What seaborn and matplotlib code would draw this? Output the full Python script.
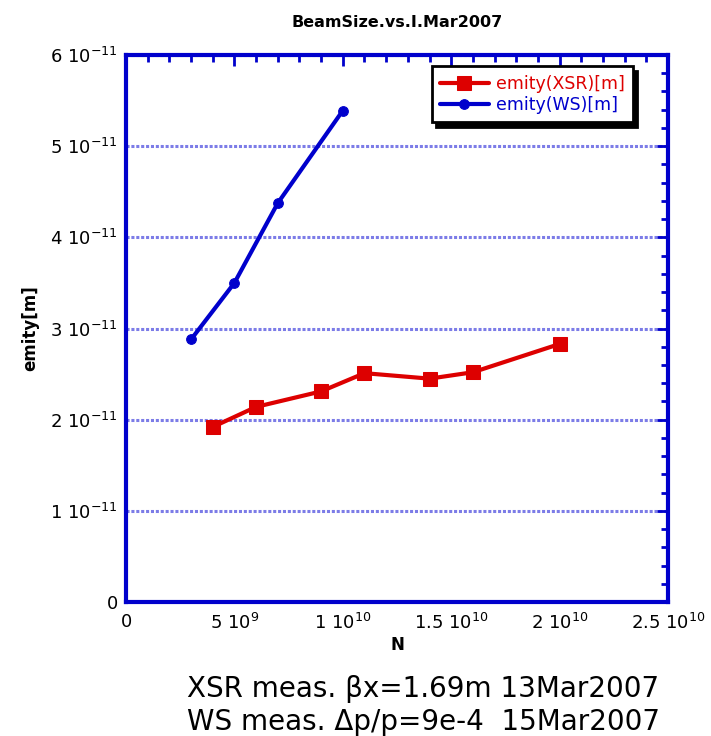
import numpy as np
import pandas as pd
import matplotlib
matplotlib.use("Agg")
import matplotlib.pyplot as plt
import seaborn as sns
from matplotlib.ticker import MultipleLocator, FuncFormatter

# data
xsr_N = [4e9, 6e9, 9e9, 11e9, 14e9, 16e9, 20e9]
xsr_emit = [1.92e-11, 2.14e-11, 2.31e-11, 2.51e-11, 2.45e-11, 2.52e-11, 2.83e-11]
ws_N = [3e9, 5e9, 7e9, 10e9]
ws_emit = [2.88e-11, 3.50e-11, 4.375e-11, 5.39e-11]
title = "BeamSize.vs.I.Mar2007"
xsr_label = "emity(XSR)[m]"
ws_label = "emity(WS)[m]"

sns.set_style("white")
plt.rcParams['font.family'] = ['DejaVu Sans']
plt.rcParams['mathtext.default'] = 'regular'
plt.rcParams['text.color'] = 'black'
plt.rcParams['axes.labelcolor'] = 'black'

fig = plt.figure(figsize=(7.11, 7.36), dpi=100)
ax = fig.add_axes([126/711, 1-602/736, 542/711, 547/736])

RED = '#dd0000'
BLUE = '#0000cc'

sns.lineplot(x=xsr_N, y=xsr_emit, ax=ax, color=RED, marker='s', markersize=10,
             markeredgecolor=RED, linewidth=3, label=xsr_label)
sns.lineplot(x=ws_N, y=ws_emit, ax=ax, color=BLUE, marker='o', markersize=7,
             markeredgecolor=BLUE, linewidth=3, label=ws_label)

ax.set_xlim(0, 2.5e10)
ax.set_ylim(0, 6e-11)
ax.xaxis.set_major_locator(MultipleLocator(5e9))
ax.xaxis.set_minor_locator(MultipleLocator(1e9))
ax.yaxis.set_major_locator(MultipleLocator(1e-11))
ax.yaxis.set_minor_locator(MultipleLocator(2e-12))

def fmt(v, pos):
    if abs(v) < 1e-30:
        return "0"
    e = int(np.floor(np.log10(abs(v)) + 1e-9))
    m = round(v / 10**e, 3)
    return f"{m:g} 10$^{{{e}}}$"

ax.xaxis.set_major_formatter(FuncFormatter(fmt))
ax.yaxis.set_major_formatter(FuncFormatter(fmt))

ax.tick_params(which='both', direction='in', top=True, right=True, color=BLUE,
               width=2, labelsize=13, labelcolor='black')
ax.tick_params(which='major', length=8)
ax.tick_params(which='minor', length=5)
ax.tick_params(axis='x', pad=8)
ax.tick_params(axis='y', pad=6)

for s in ax.spines.values():
    s.set_color(BLUE)
    s.set_linewidth(3)

ax.yaxis.grid(True, which='major', color='#5050e0', linestyle=(0, (1, 0.6)), linewidth=2.2, alpha=0.75)
ax.xaxis.grid(False)
ax.set_axisbelow(True)

ax.set_xlabel("N", fontsize=12, fontweight='bold', labelpad=2)
ax.set_ylabel("emity[m]", fontsize=12, fontweight='bold', labelpad=8)
ax.set_title(title, fontsize=11.5, fontweight='bold', pad=20)

leg = ax.legend(loc='upper right', bbox_to_anchor=(0.952, 0.995), fontsize=12.5,
                frameon=True, fancybox=False, shadow={'color': 'black', 'alpha': 1, 'ox': 3, 'oy': -3},
                handlelength=2.8, borderpad=0.5, labelspacing=0.15, handletextpad=0.4)
leg.get_frame().set_edgecolor('black')
leg.get_frame().set_linewidth(2)
for t, c in zip(leg.get_texts(), [RED, BLUE]):
    t.set_color(c)

fig.text(187/711, 1-697/736, "XSR meas. \u03b2x=1.69m 13Mar2007", fontsize=20, ha='left', va='baseline')
fig.text(187/711, 1-730/736, "WS meas. \u0394p/p=9e-4  15Mar2007", fontsize=20, ha='left', va='baseline')

fig.savefig("out.png", dpi=100)
